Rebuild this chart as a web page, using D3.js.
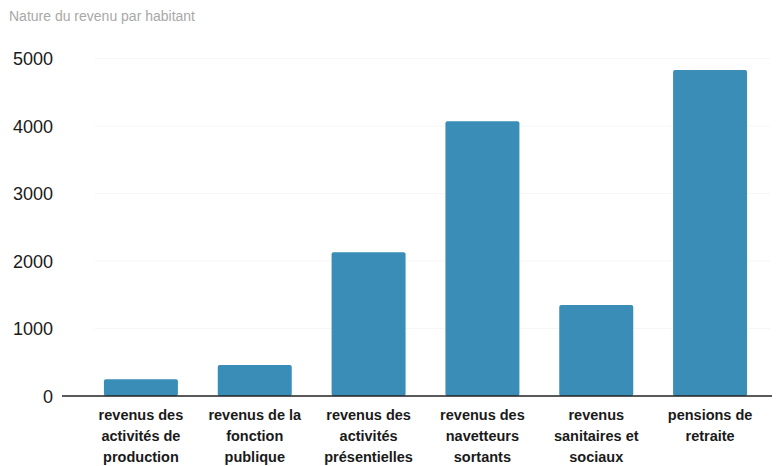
<!DOCTYPE html>
<html>
<head>
<meta charset="utf-8">
<script src="https://cdn.jsdelivr.net/npm/d3@7"></script>
<style>
  html, body { margin: 0; padding: 0; background: #fff; }
  svg { display: block; }
</style>
</head>
<body>
<svg id="chart" width="776" height="466"></svg>
<script>
const title = "Nature du revenu par habitant";
const categories = [
  ["revenus des", "activités de", "production"],
  ["revenus de la", "fonction", "publique"],
  ["revenus des", "activités", "présentielles"],
  ["revenus des", "navetteurs", "sortants"],
  ["revenus", "sanitaires et", "sociaux"],
  ["pensions de", "retraite"]
];
const values = [250, 460, 2130, 4070, 1350, 4830];
const yTicks = [0, 1000, 2000, 3000, 4000, 5000];

const svg = d3.select("#chart");
const keys = categories.map((c, i) => i);

const x = d3.scaleBand().domain(keys).range([84, 767]).paddingInner(0.35).paddingOuter(0.175);
const y = d3.scaleLinear().domain([0, 5000]).range([396, 58.5]);

// title
svg.append("text")
  .attr("x", 9).attr("y", 21)
  .attr("font-family", "Liberation Sans, Arial, sans-serif")
  .attr("font-size", 14)
  .attr("fill", "#a8a8a8")
  .text(title);

// faint gridlines
svg.append("g").selectAll("line").data(yTicks.filter(d => d > 0)).join("line")
  .attr("x1", 95).attr("x2", 770)
  .attr("y1", d => y(d)).attr("y2", d => y(d))
  .attr("stroke", "#f6f6f6").attr("stroke-width", 1);

// y axis labels
const yAxis = d3.axisLeft(y).tickValues(yTicks).tickSize(0).tickPadding(0).tickFormat(d3.format("d"));
const gy = svg.append("g").attr("transform", "translate(53,0)").call(yAxis);
gy.select(".domain").remove();
gy.selectAll("text")
  .attr("font-family", "Liberation Sans, Arial, sans-serif")
  .attr("font-size", 18)
  .attr("fill", "#1a1a1a")
  .attr("dy", "0.36em");

// bars
svg.append("g").selectAll("rect").data(values).join("rect")
  .attr("x", (d, i) => x(i))
  .attr("y", d => y(d))
  .attr("width", x.bandwidth())
  .attr("height", d => y(0) - y(d))
  .attr("rx", 2).attr("ry", 2)
  .attr("fill", "#3a8db6");

// baseline
svg.append("line")
  .attr("x1", 62).attr("x2", 772)
  .attr("y1", y(0)).attr("y2", y(0))
  .attr("stroke", "#222").attr("stroke-width", 1.3);

// x axis labels
const xAxis = d3.axisBottom(x).tickSize(0).tickFormat(() => "");
const gx = svg.append("g").attr("transform", `translate(0,${y(0)})`).call(xAxis);
gx.select(".domain").remove();
gx.selectAll(".tick").each(function(i) {
  const t = d3.select(this).append("text")
    .attr("font-family", "Liberation Sans, Arial, sans-serif")
    .attr("font-size", 14.5)
    .attr("font-weight", "bold")
    .attr("fill", "#1a1a1a")
    .attr("text-anchor", "middle");
  categories[i].forEach((line, k) => {
    t.append("tspan").attr("x", 0).attr("y", 24 + k * 21).text(line);
  });
});
</script>
</body>
</html>
